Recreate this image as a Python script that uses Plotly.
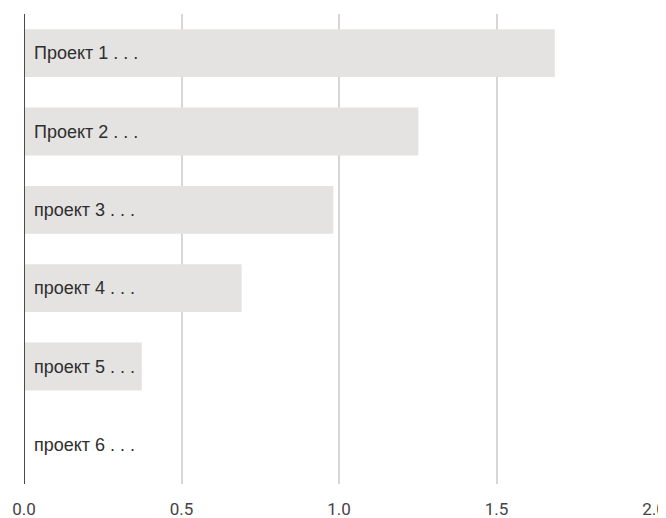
import plotly.graph_objects as go

categories = ["Проект 1 . . .", "Проект 2 . . .", "проект 3 . . .", "проект 4 . . .", "проект 5 . . .", "проект 6 . . ."]
values = [1.685, 1.252, 0.982, 0.691, 0.374, 0.0]
tick_vals = [0.0, 0.5, 1.0, 1.5, 2.0]
tick_text = ["0.0", "0.5", "1.0", "1.5", "2.0"]

fig = go.Figure()
fig.add_trace(go.Bar(
    x=values, y=categories, orientation="h",
    marker=dict(color="#e4e3e2", line=dict(width=0)),
    hoverinfo="skip",
))

for c in categories:
    fig.add_annotation(x=0, y=c, text=c, showarrow=False, xanchor="left",
                       xshift=8, font=dict(family="Arial, Liberation Sans", size=18, color="#2e2e2e"))

fig.update_layout(
    width=658, height=510,
    margin=dict(l=16, r=12, t=6, b=34, autoexpand=False),
    paper_bgcolor="white", plot_bgcolor="white",
    bargap=0.39,
    showlegend=False,
    xaxis=dict(range=[0, 2.0], tickvals=tick_vals, ticktext=tick_text,
               showgrid=True, gridcolor="#d6d6d6", gridwidth=1.5,
               zeroline=False, showline=False, ticks="", automargin=False,
               ticklabelstandoff=13,
               tickfont=dict(family="Roboto, Arial", size=17, color="#444444")),
    yaxis=dict(autorange="reversed", showticklabels=False, showgrid=False,
               zeroline=False, showline=False, ticks="", automargin=False),
)
fig.add_shape(type="line", xref="x", yref="paper", x0=0, x1=0, y0=0, y1=1,
              line=dict(color="#4a4a4a", width=2))

fig.write_html("out.html")
